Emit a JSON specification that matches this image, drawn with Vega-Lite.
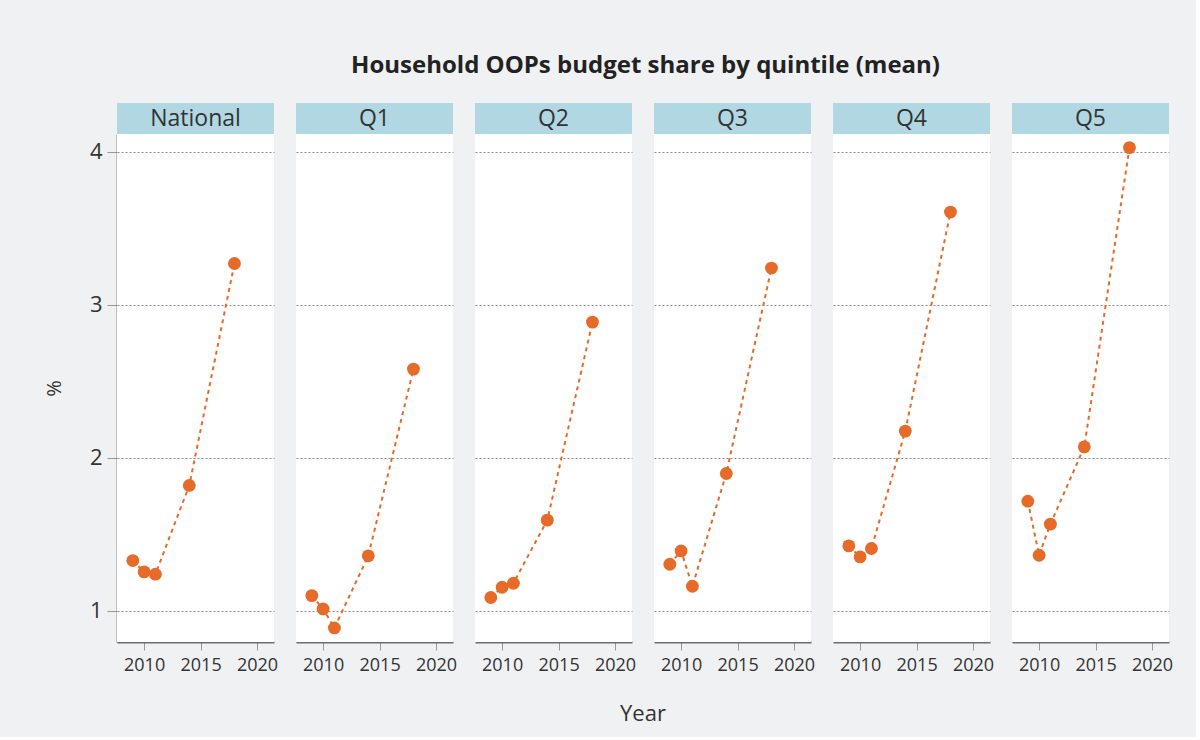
{
  "$schema": "https://vega.github.io/schema/vega-lite/v6.json",
  "background": "#f0f1f3",
  "padding": {"left": 44, "top": 54, "right": 23, "bottom": 12},
  "title": {"text": "Household OOPs budget share by quintile (mean)", "font": "Open Sans", "fontSize": 24, "fontWeight": "bold", "color": "#222222", "anchor": "middle", "dx": 37, "offset": 25},
  "datasets": {
    "panels": [
      {"panel": "National"}, {"panel": "Q1"}, {"panel": "Q2"}, {"panel": "Q3"}, {"panel": "Q4"}, {"panel": "Q5"}
    ],
    "oop": [
      {"panel": "National", "year": 2009, "share": 1.329},
      {"panel": "National", "year": 2010, "share": 1.255},
      {"panel": "National", "year": 2011, "share": 1.240},
      {"panel": "National", "year": 2014, "share": 1.820},
      {"panel": "National", "year": 2018, "share": 3.270},
      {"panel": "Q1", "year": 2009, "share": 1.100},
      {"panel": "Q1", "year": 2010, "share": 1.013},
      {"panel": "Q1", "year": 2011, "share": 0.889},
      {"panel": "Q1", "year": 2014, "share": 1.360},
      {"panel": "Q1", "year": 2018, "share": 2.580},
      {"panel": "Q2", "year": 2009, "share": 1.088},
      {"panel": "Q2", "year": 2010, "share": 1.155},
      {"panel": "Q2", "year": 2011, "share": 1.181},
      {"panel": "Q2", "year": 2014, "share": 1.593},
      {"panel": "Q2", "year": 2018, "share": 2.887},
      {"panel": "Q3", "year": 2009, "share": 1.305},
      {"panel": "Q3", "year": 2010, "share": 1.392},
      {"panel": "Q3", "year": 2011, "share": 1.161},
      {"panel": "Q3", "year": 2014, "share": 1.898},
      {"panel": "Q3", "year": 2018, "share": 3.240},
      {"panel": "Q4", "year": 2009, "share": 1.425},
      {"panel": "Q4", "year": 2010, "share": 1.353},
      {"panel": "Q4", "year": 2011, "share": 1.408},
      {"panel": "Q4", "year": 2014, "share": 2.175},
      {"panel": "Q4", "year": 2018, "share": 3.606},
      {"panel": "Q5", "year": 2009, "share": 1.717},
      {"panel": "Q5", "year": 2010, "share": 1.364},
      {"panel": "Q5", "year": 2011, "share": 1.567},
      {"panel": "Q5", "year": 2014, "share": 2.072},
      {"panel": "Q5", "year": 2018, "share": 4.027}
    ]
  },
  "config": {
    "font": "Open Sans",
    "view": {"stroke": null}
  },
  "spacing": 0,
  "vconcat": [
    {
      "data": {"name": "panels"},
      "facet": {
        "column": {"field": "panel", "type": "nominal", "sort": ["National", "Q1", "Q2", "Q3", "Q4", "Q5"], "header": {"labels": false, "title": null}}
      },
      "spacing": 22,
      "spec": {
        "width": 157,
        "height": 31,
        "view": {"fill": "#b1d8e2", "stroke": null},
        "mark": {"type": "text", "fontSize": 23, "color": "#333333", "font": "Open Sans"},
        "encoding": {
          "text": {"field": "panel", "type": "nominal"},
          "y": {"datum": 0.5, "type": "quantitative", "title": "%",
            "scale": {"domain": [0, 1], "nice": false, "zero": false},
            "axis": {"values": [0.5], "labelExpr": "'4'", "labelColor": "transparent", "labelFontSize": 22, "labelPadding": 5, "tickSize": 10, "tickColor": "transparent", "domain": false, "grid": false, "titleColor": "transparent", "titleFontSize": 20, "titleFontWeight": "normal", "titlePadding": 25}}
        }
      }
    },
    {
      "data": {"name": "oop"},
      "facet": {
        "column": {"field": "panel", "type": "nominal", "sort": ["National", "Q1", "Q2", "Q3", "Q4", "Q5"],
          "title": "Year",
          "header": {"labels": false, "title": "Year", "titleOrient": "bottom", "titleFontSize": 22, "titleFontWeight": "normal", "titleColor": "#333333", "titleFont": "Open Sans", "titlePadding": 20}}
      },
      "spacing": 22,
      "spec": {
        "width": 157,
        "height": 508,
        "view": {"fill": "#ffffff", "stroke": null},
        "encoding": {
          "x": {"field": "year", "type": "quantitative", "title": null,
            "scale": {"domain": [2007.6, 2021.5], "nice": false, "zero": false},
            "axis": {"values": [2010, 2015, 2020], "format": "d", "labelFontSize": 18, "labelColor": "#333333", "labelPadding": 6, "domainColor": "#6f6f6f", "domainWidth": 2, "tickColor": "#999999", "tickSize": 8, "tickWidth": 1, "grid": false}},
          "y": {"field": "share", "type": "quantitative", "title": "%",
            "scale": {"domain": [0.797, 4.116], "nice": false, "zero": false},
            "axis": {"values": [1, 2, 3, 4], "labelFontSize": 22, "labelColor": "#333333", "labelPadding": 5, "domainColor": "#333333", "domainWidth": 1.5, "tickColor": "#999999", "tickSize": 10, "grid": true, "gridColor": "#8a8a8a", "gridDash": [2, 2], "gridWidth": 1, "titleFontSize": 20, "titleFontWeight": "normal", "titleColor": "#333333", "titlePadding": 25}}
        },
        "layer": [
          {"mark": {"type": "line", "color": "#e66a28", "strokeWidth": 2, "strokeDash": [4, 4]}},
          {"mark": {"type": "point", "filled": true, "color": "#e66a28", "opacity": 1, "size": 165}}
        ]
      }
    }
  ]
}
